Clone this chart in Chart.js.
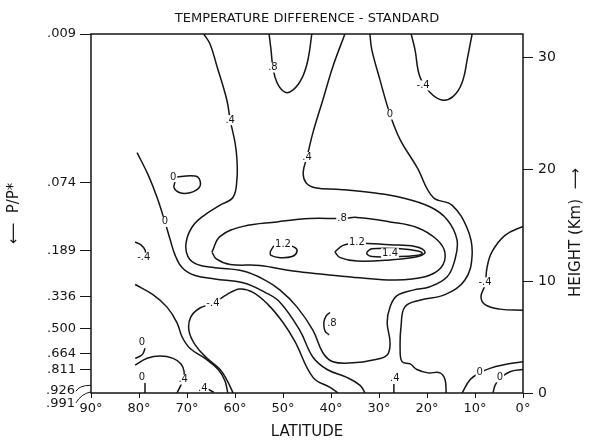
<!DOCTYPE html>
<html>
<head>
<meta charset="utf-8">
<script src="https://cdn.jsdelivr.net/npm/chart.js@4.4.0/dist/chart.umd.min.js"></script>
<style>
html, body { margin: 0; padding: 0; background: #fff; }
</style>
</head>
<body>
<canvas id="chartContour" width="590" height="444"></canvas>
<script>
// axis ticks
const latTicks = [90, 80, 70, 60, 50, 40, 30, 20, 10, 0];
const heightTicks = [0, 10, 20, 30];
const pressureLabels = ['.009', '.074', '.189', '.336', '.500', '.664', '.811', '.926', '.991'];
const pressureHeights = [32.1, 18.8, 12.7, 8.6, 5.8, 3.5, 2.1, 0.6, 0.1];

// contour lines, [latitude, height km]
const c08Top = [[52.9,32.1],[52.5,30.7],[52.1,29.1],[51.25,27.75],[49.6,26.9],[47.9,27.1],[46.0,28.2],[44.8,29.8],[44.0,32.1]];
const cM04Top = [[23.3,32.1],[22.5,30.7],[21.5,28.3],[19.4,26.9],[16.9,26.2],[14.6,26.5],[12.7,27.75],[11.5,30.1],[10.6,32.1]];
const c04 = [[37.1,32.1],[39.6,29.2],[41.7,26.2],[43.75,23.3],[45.0,21.1],[45.8,19.7],[45.2,18.8],[43.3,18.35],[38.1,18.2],[31.25,17.9],[25.6,17.5],[19.4,16.65],[15.8,15.5],[13.75,13.7],[14.2,11.9],[15.8,10.4],[19.4,9.5],[22.9,9.2],[26.25,8.7],[27.7,7.7],[28.3,6.3],[27.7,4.5],[28.3,3.4],[31.25,2.95],[35.4,2.7],[39.6,2.8],[41.7,3.6],[43.75,5.6],[47.1,7.7],[50.6,9.2],[53.75,10.1],[58.3,10.9],[64.2,11.2],[67.9,11.5],[69.8,12.2],[70.2,13.4],[69.0,14.8],[66.7,15.8],[63.1,16.8],[60.4,17.5],[59.6,19.1],[59.6,20.9],[60.0,22.4],[61.0,24.4],[61.7,26.2],[63.75,29.2],[65.2,31.2],[66.5,32.1]];
const c00West = [[80.4,21.5],[78.1,19.5],[76.25,17.5],[74.6,15.3],[73.5,13.7],[72.5,12.35],[71.0,11.2],[68.3,10.5],[64.2,10.2],[58.3,9.85],[53.75,9.0],[50.6,8.1],[46.5,5.6],[43.75,3.2],[40.8,2.1],[36.7,1.4],[34.0,0.7],[32.9,0]];
const c00East = [[31.9,32.1],[31.5,30.7],[29.8,28.0],[27.7,24.9],[25.6,22.65],[22.1,20.2],[18.75,17.5],[14.8,16.8],[11.5,14.6],[10.6,12.35],[12.1,10.1],[16.25,8.8],[21.5,8.3],[24.6,7.7],[25.4,6.0],[25.6,4.0],[25.2,2.8],[23.5,2.6],[22.1,2.1],[19.8,1.8],[17.3,1.8],[16.25,1.2],[16.0,0]];
const cM04 = [[60.4,0],[61.5,1.0],[63.1,2.1],[65.8,3.1],[68.3,4.3],[69.6,5.6],[69.2,6.8],[67.3,7.6],[64.6,8.0],[61.7,8.8],[59.0,9.3],[56.25,9.0],[53.1,7.9],[50.0,6.3],[47.5,4.6],[43.75,1.4],[40.2,0.5],[38.5,0]];
const c00Loop = [[72.9,19.3],[68.3,19.4],[67.3,19.0],[67.5,18.35],[69.4,17.9],[71.5,17.9],[72.7,18.35],[72.5,19.0],[72.9,19.3]];
const c08Loop = [[64.8,12.6],[63.1,14.0],[58.3,14.9],[51.25,15.3],[44.4,15.6],[37.7,15.6],[34.6,15.7],[27.7,15.3],[22.1,14.8],[17.9,13.7],[16.25,12.5],[17.1,11.2],[20.4,10.4],[26.7,10.1],[34.0,10.3],[41.25,10.6],[47.9,10.9],[54.8,11.4],[61.0,11.5],[63.9,12.0],[64.8,12.6]];
const c12West = [[52.7,12.6],[51.7,13.2],[49.6,13.25],[47.5,13.0],[47.1,12.6],[48.1,12.2],[50.6,12.1],[52.5,12.3],[52.7,12.6]];
const c12East = [[39.2,12.6],[37.5,13.2],[34.6,13.4],[27.7,13.25],[22.5,13.1],[20.4,12.6],[21.9,12.2],[27.7,11.9],[34.6,11.8],[38.1,12.1],[39.2,12.6]];
const c14 = [[32.5,12.6],[31.5,12.9],[25.6,12.9],[21.9,12.7],[21.0,12.5],[22.3,12.3],[26.7,12.2],[31.5,12.2],[32.5,12.4],[32.5,12.6]];
const c08Small = [[40.2,7.2],[41.0,6.9],[41.5,6.3],[41.25,5.55],[40.4,5.2]];
const cEqM04 = [[0,14.9],[3.75,14.1],[6.5,12.6],[7.5,11.2],[7.9,9.7],[8.75,8.6],[7.9,7.9],[4.8,7.5],[0,7.4]];
const cEq00a = [[0,2.8],[4.2,2.5],[6.9,2.2],[9.0,1.8],[11.0,1.2],[12.7,0]];
const cEq00b = [[0,2.1],[2.7,1.9],[4.8,1.3],[5.8,0.7],[6.25,0]];
const cPoleM04 = [[80.8,13.5],[79.6,13.25],[78.75,12.8],[78.6,12.4]];
const cPoleDiag = [[80.8,9.7],[77.1,8.8],[74.2,7.7],[72.1,6.3],[71.0,5.0],[69.4,4.0],[66.25,3.1],[63.5,2.1],[62.1,1.1],[61.5,0]];
const cPole00a = [[78.75,4.0],[79.2,3.5],[80.2,3.2],[80.8,3.1]];
const cPole04 = [[80.8,2.5],[78.3,3.1],[75.6,3.3],[72.9,3.1],[71.25,2.6],[70.6,1.9],[70.8,1.2],[71.5,0.5],[72.1,0]];
const cPole00b = [[78.75,0.9],[78.75,0]];
const cStubA = [[65.6,0.35],[64.4,0.05]];
const cStubB = [[26.9,0.8],[26.9,0]];

const contours = [c08Top, cM04Top, c04, c00West, c00East, cM04, c00Loop, c08Loop, c12West, c12East, c14,
  c08Small, cEqM04, cEq00a, cEq00b, cPoleM04, cPoleDiag, cPole00a, cPole04, cPole00b, cStubA, cStubB];

// contour value labels
const labelText = ['.8', '-.4', '.4', '.4', '0', '0', '0', '.8', '1.2', '1.2', '1.4', '-.4', '-.4', '.8', '-.4', '0', '.4', '0', '.4', '.4', '0', '0'];
const labelLat = [52.1, 20.8, 45.0, 61.0, 27.7, 74.6, 72.9, 37.7, 50.0, 34.6, 27.7, 79.0, 64.6, 39.8, 7.9, 79.4, 70.8, 79.4, 66.7, 26.7, 9.0, 4.8];
const labelKm = [29.1, 27.5, 21.1, 24.4, 24.9, 15.3, 19.3, 15.6, 13.3, 13.5, 12.5, 12.1, 8.0, 6.2, 9.9, 4.5, 1.2, 1.4, 0.45, 1.3, 1.8, 1.4];

const FONT = '"DejaVu Sans", sans-serif';
const INK = '#151515';

const contourLabels = {
  id: 'contourLabels',
  afterDatasetsDraw(chart) {
    const { ctx, chartArea: a, scales: { x, y } } = chart;
    ctx.save();
    ctx.font = '10px ' + FONT;
    ctx.textAlign = 'center';
    ctx.textBaseline = 'middle';
    labelText.forEach((t, i) => {
      const px = x.getPixelForValue(labelLat[i]);
      const py = y.getPixelForValue(labelKm[i]);
      const w = ctx.measureText(t).width;
      ctx.fillStyle = '#fff';
      ctx.fillRect(px - w / 2 - 1, py - 5, w + 2, 10);
      ctx.fillStyle = INK;
      ctx.fillText(t, px, py);
    });
    // frame
    ctx.strokeStyle = INK;
    ctx.lineWidth = 1.5;
    ctx.strokeRect(a.left, a.top, a.right - a.left, a.bottom - a.top);
    ctx.restore();
  },
  afterDraw(chart) {
    const { ctx, scales: { yp, y } } = chart;
    ctx.save();
    ctx.fillStyle = INK;
    ctx.strokeStyle = INK;
    ctx.lineWidth = 1;
    ctx.font = '13px ' + FONT;
    ctx.textAlign = 'right';
    ctx.textBaseline = 'middle';
    // the two bracketed surface levels
    const xr = yp.right;
    const y1 = yp.getPixelForValue(pressureHeights[7]);
    const y2 = yp.getPixelForValue(pressureHeights[8]);
    ctx.fillText(pressureLabels[7], xr - 16, y1 + 4);
    ctx.fillText(pressureLabels[8], xr - 16, y2 + 12);
    ctx.beginPath();
    ctx.moveTo(xr - 15, y1 + 5);
    ctx.quadraticCurveTo(xr - 12, y1 - 1, xr, y1 - 1);
    ctx.moveTo(xr - 15, y2 + 11);
    ctx.quadraticCurveTo(xr - 10, y2 + 2, xr, y2);
    ctx.stroke();
    // right axis title, reading upward
    ctx.font = '15px ' + FONT;
    ctx.textAlign = 'center';
    ctx.translate(y.right - 14, (y.top + y.bottom) / 2 + 19);
    ctx.rotate(-Math.PI / 2);
    ctx.fillText('HEIGHT (Km)  \u27F6', 0, 0);
    ctx.restore();
  }
};

const ctx = document.getElementById('chartContour').getContext('2d');

const chartConfig = {
  type: 'line',
  data: {
    datasets: contours.map(pts => ({
      data: pts.map(p => ({ x: p[0], y: p[1] })),
      borderColor: INK,
      borderWidth: 1.5,
      pointRadius: 0,
      tension: 0.4,
      fill: false
    }))
  },
  options: {
    responsive: false,
    animation: false,
    devicePixelRatio: 1,
    layout: { padding: 0 },
    font: { family: FONT },
    plugins: {
      legend: { display: false },
      tooltip: { enabled: false },
      title: {
        display: true,
        text: 'TEMPERATURE DIFFERENCE - STANDARD',
        fullSize: false,
        color: INK,
        font: { family: FONT, size: 13, weight: 'normal', lineHeight: 1.2 },
        padding: { top: 11, bottom: 7.4 }
      }
    },
    scales: {
      x: {
        type: 'linear',
        reverse: true,
        min: 0,
        max: 90,
        afterBuildTicks: s => { s.ticks = latTicks.map(v => ({ value: v })); },
        afterFit: s => { s.height = 51; },
        ticks: { callback: v => v + '\u00B0', color: INK, font: { family: FONT, size: 13 }, padding: 3, maxRotation: 0, autoSkip: false },
        grid: { drawOnChartArea: false, tickLength: 5, color: INK },
        border: { display: false },
        title: { display: true, text: 'LATITUDE', color: INK, font: { family: FONT, size: 15, lineHeight: 1.2 }, padding: { top: 0, bottom: 3 } }
      },
      yp: {
        type: 'linear',
        position: 'left',
        min: 0,
        max: 32.1,
        afterBuildTicks: s => { s.ticks = pressureHeights.map(v => ({ value: v })); },
        afterFit: s => { s.width = 91; },
        ticks: { callback: (v, i) => (i < 7 ? pressureLabels[i] : ''), color: INK, font: { family: FONT, size: 13 }, padding: 4, autoSkip: false },
        grid: { drawOnChartArea: false, tickLength: 11, color: INK, tickColor: c => (c.index >= 7 ? 'rgba(0,0,0,0)' : INK) },
        border: { display: false },
        title: { display: true, text: '\u27F5  P/P*', color: INK, font: { family: FONT, size: 15, lineHeight: 1.2 }, padding: { top: 5, bottom: 0 } }
      },
      y: {
        type: 'linear',
        position: 'right',
        min: 0,
        max: 32.1,
        afterBuildTicks: s => { s.ticks = heightTicks.map(v => ({ value: v })); },
        afterFit: s => { s.width = 67; },
        ticks: { color: INK, font: { family: FONT, size: 14 }, padding: 5, autoSkip: false },
        grid: { drawOnChartArea: false, tickLength: 10, color: INK },
        border: { display: false }
      }
    }
  },
  plugins: [contourLabels]
};

new Chart(ctx, chartConfig);
</script>
</body>
</html>
